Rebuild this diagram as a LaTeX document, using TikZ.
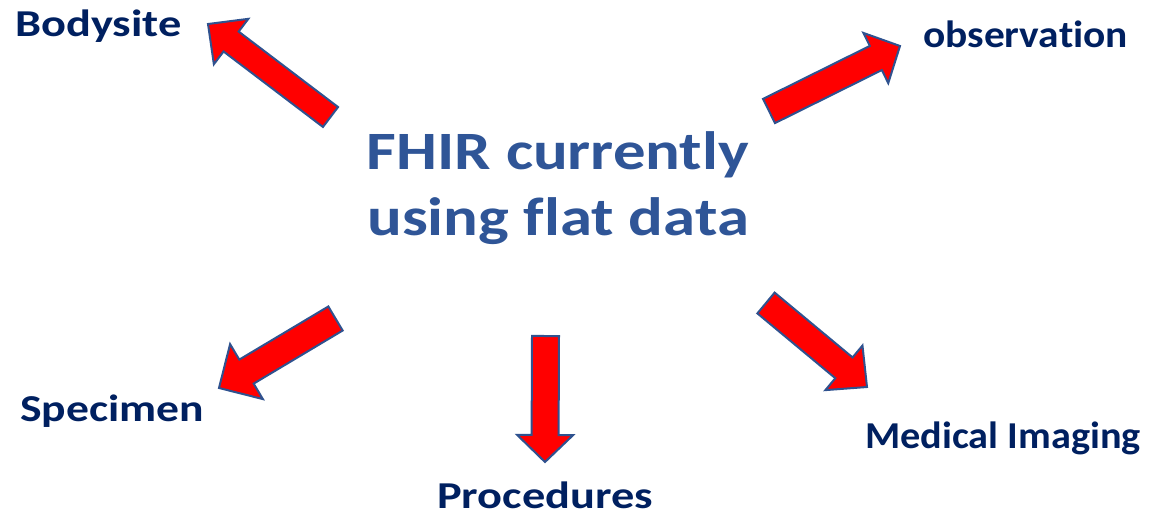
\documentclass[tikz,border=0pt]{standalone}
\usepackage{fontspec}
\setmainfont{Carlito}[Ligatures=NoCommon]
\newfontfamily\widefont{Carlito}[Ligatures=NoCommon,FakeStretch=1.2]
\usetikzlibrary{calc}

\definecolor{titleblue}{RGB}{47,85,151}
\definecolor{labelnavy}{RGB}{0,32,96}
\definecolor{arrowedge}{RGB}{47,82,143}

% block arrow: tail centre, tip, shaft width, head width, head length
\newcommand{\blockarrow}[5]{%
  \coordinate (T) at (#1);
  \coordinate (P) at (#2);
  \coordinate (B) at ($(P)!#5!(T)$);
  \filldraw[fatarrow]
    ($(T)!#3/2!90:(P)$) -- ($(B)!#3/2!-90:(T)$) -- ($(B)!#4/2!-90:(T)$) --
    (P) --
    ($(B)!#4/2!90:(T)$) -- ($(B)!#3/2!90:(T)$) -- ($(T)!#3/2!-90:(P)$) -- cycle;
}
% horizontally widened label text
\newcommand{\wide}[2]{\scalebox{#1}[1]{#2}}

\begin{document}
\begin{tikzpicture}[x=1pt,y=-1pt,
  fatarrow/.style={fill=red,draw=arrowedge,line width=2pt,line join=miter},
  label/.style={font=\fontsize{38}{46}\selectfont\bfseries,text=labelnavy,
                anchor=base west,inner sep=0pt},
  title/.style={font=\widefont\fontsize{54}{66}\selectfont\bfseries,text=titleblue,
                align=center,inner sep=0pt}]
\useasboundingbox (0,0) rectangle (1149,517);

% central statement (base anchor sits on the last line)
\node[title,anchor=base] (hub) at (558,235) {FHIR currently\\using flat data};

% surrounding labels
\node[label] (bodysite) at (15,36) {\wide{1.22}{Bodysite}};
\node[label] (observation) at (923,47) {\wide{1.09}{observation}};
\node[label] (specimen) at (20,421) {\wide{1.2}{Specimen}};
\node[label] (procedures) at (437,508) {\wide{1.22}{Procedures}};
\node[label] (imaging) at (865,448) {\wide{1.06}{Medical Imaging}};

% red block arrows pointing outwards
\blockarrow{330.5,117}{208,24}{25pt}{57pt}{29pt}
\blockarrow{769,111}{900,46}{27pt}{56pt}{27pt}
\blockarrow{335.5,318.5}{219,388}{28pt}{64pt}{32pt}
\blockarrow{545.5,336}{545,462}{27pt}{56pt}{27pt}
\blockarrow{766,303}{867,387}{27pt}{58pt}{30pt}
\end{tikzpicture}
\end{document}
